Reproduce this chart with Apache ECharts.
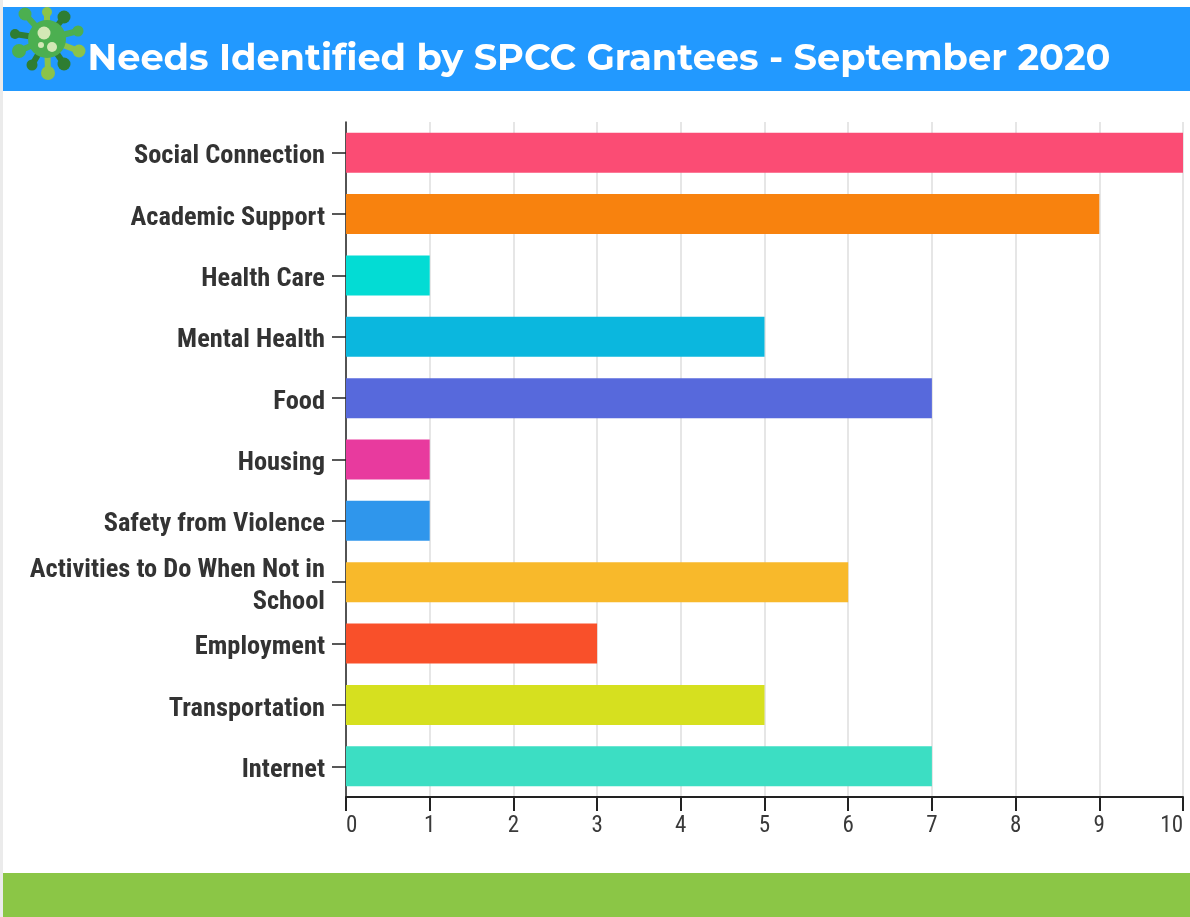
<!DOCTYPE html>
<html><head><meta charset="utf-8">
<style>html,body{margin:0;padding:0;background:#fff}#c{width:1190px;height:917px}</style>
<script src="https://cdn.jsdelivr.net/npm/echarts@6/dist/echarts.min.js"></script></head>
<body><div id="c"></div>
<script>
const titleText = 'Needs Identified by SPCC Grantees - September 2020';
const categories = ['Social Connection','Academic Support','Health Care','Mental Health','Food','Housing','Safety from Violence','Activities to Do When Not in School','Employment','Transportation','Internet'];
const values = [10,9,1,5,7,1,1,6,3,5,7];
const colors = ['#fb4c74','#f8820e','#03dcd4','#0bb7de','#5769dc','#e83a9e','#2f96ec','#f8b92b','#f9502a','#d6e01f','#3cdec3'];

const DARK='#2e7d32', MID='#4caf50', LIME='#8bc34a';
// decorative icon: arm end [x,y,r,color]
const arms=[[47,12,5,LIME],[25,14,6.5,MID],[64,17,6.5,DARK],[78,31,5.5,MID],[79,51,6.5,LIME],[64,64,6.5,DARK],[48,73,7,LIME],[32,65,5.5,DARK],[19,51,7,MID],[15,34,5,DARK]];
const icon=[];
arms.forEach(a=>{
  icon.push({type:'line',shape:{x1:47,y1:39,x2:a[0],y2:a[1]},style:{stroke:a[3],lineWidth:6},z:11});
  icon.push({type:'circle',shape:{cx:a[0],cy:a[1],r:a[2]},style:{fill:a[3]},z:11});
});
icon.push({type:'circle',shape:{cx:47,cy:39,r:19},style:{fill:MID},z:12});
[[44,33,6.5],[52,47,5],[41,45,3]].forEach(s=>icon.push({type:'circle',shape:{cx:s[0],cy:s[1],r:s[2]},style:{fill:'#d3e8b5'},z:13}));

const chart=echarts.init(document.getElementById('c'),null,{renderer:'canvas'});
chart.setOption({
  animation:false,
  backgroundColor:'#ffffff',
  grid:[
    {left:346,right:7,top:122,bottom:120,containLabel:false},
    {left:346,right:7,top:126,bottom:116,containLabel:false}
  ],
  xAxis:[
    {type:'value',gridIndex:0,min:0,max:10,interval:1,position:'bottom',
    axisLine:{show:true,lineStyle:{color:'#222',width:2}},
    axisTick:{show:true,length:14,lineStyle:{color:'#222',width:2}},
    axisLabel:{color:'#3a3a3a',fontFamily:'"Roboto Condensed"',fontSize:23,margin:18,alignMinLabel:'left',alignMaxLabel:'right'},
    splitLine:{show:true,lineStyle:{color:'#e6e6e6',width:2}}},
    {type:'value',gridIndex:1,min:0,max:10,show:false}
  ],
  yAxis:[
    {type:'category',gridIndex:0,inverse:true,data:categories,
    axisLine:{show:true,onZero:false,lineStyle:{color:'#222',width:1.5}},
    axisTick:{show:true,alignWithLabel:true,length:14,lineStyle:{color:'#222',width:1.5}},
    axisLabel:{show:false}},
    {type:'category',gridIndex:1,inverse:true,data:categories,
    axisLine:{show:false},axisTick:{show:false},
    axisLabel:{color:'#333',fontFamily:'"Roboto Condensed"',fontWeight:'bold',fontSize:26.4,margin:21,width:300,overflow:'break',lineHeight:32,align:'right'}}
  ],
  series:[{type:'bar',xAxisIndex:0,yAxisIndex:0,data:values.map((v,i)=>({value:v,itemStyle:{color:colors[i]}})),barWidth:40}],
  graphic:[
    {type:'rect',shape:{x:0,y:0,width:3,height:917},style:{fill:'#ebebeb'},z:9},
    {type:'rect',shape:{x:3,y:7,width:1187,height:84},style:{fill:'#2299ff'},z:10},
    {type:'rect',shape:{x:3,y:873,width:1187,height:44},style:{fill:'#8bc646'},z:10},
    {type:'text',x:87.5,y:59,style:{text:titleText,fill:'#fff',font:'700 36.75px Montserrat',textVerticalAlign:'middle'},z:14},
    ...icon
  ]
});
</script></body></html>
